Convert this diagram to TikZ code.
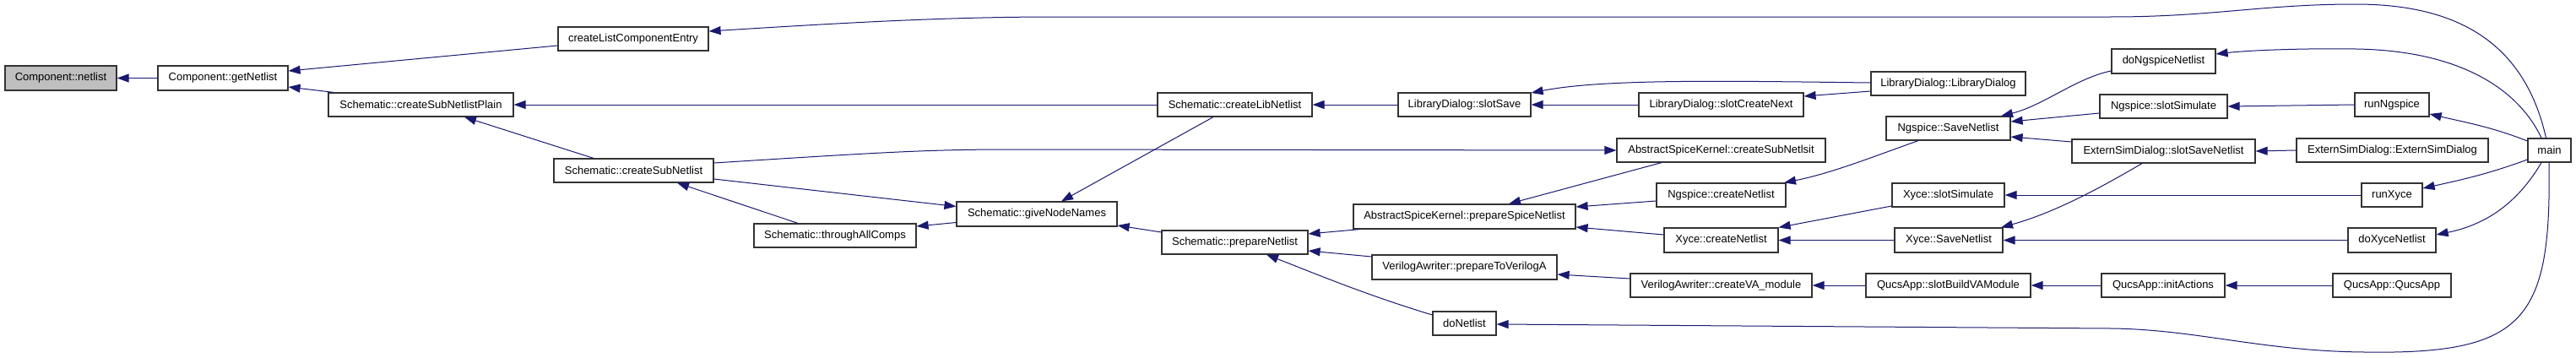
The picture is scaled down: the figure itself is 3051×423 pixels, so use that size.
\documentclass[tikz,border=0pt]{standalone}
\usepackage{fontspec}
\setmainfont{Liberation Sans}
\usetikzlibrary{arrows.meta}
\definecolor{edgeblue}{HTML}{191970}
\definecolor{boxline}{HTML}{333333}
\definecolor{rootfill}{HTML}{BFBFBF}
\tikzset{
  box/.style={draw=boxline, line width=1.2pt, fill=white, inner sep=0pt, text=black,
    font=\fontsize{13}{15}\selectfont},
  rootbox/.style={box, fill=rootfill},
  edge/.style={draw=edgeblue, line width=1pt, -{Triangle[length=14pt,width=10pt]}, color=edgeblue},
}
\newcommand\mkbox[7][box]{\node[#1, minimum width=#5pt, minimum height=#6pt] (#2) at (#3,#4) {#7};}
\begin{document}
\begin{tikzpicture}[x=1pt,y=-1pt]
\fill[white] (0,0) rectangle (3051,423);
\useasboundingbox (0,0) rectangle (3051,423);
% nodes
\mkbox[rootbox]{netlist}{72}{92.5}{132}{29}{Component::netlist}
\mkbox{getNetlist}{264}{92.5}{154}{29}{Component::getNetlist}
\mkbox{plain}{498.5}{124}{219}{28}{Schematic::createSubNetlistPlain}
\mkbox{listentry}{750}{46}{178}{28}{createListComponentEntry}
\mkbox{subnet}{750.5}{202}{189}{28}{Schematic::createSubNetlist}
\mkbox{through}{989}{279}{192}{28}{Schematic::throughAllComps}
\mkbox{give}{1228}{253.5}{190}{29}{Schematic::giveNodeNames}
\mkbox{libnet}{1462.5}{124}{183}{28}{Schematic::createLibNetlist}
\mkbox{prep}{1462.5}{287}{173}{28}{Schematic::prepareNetlist}
\mkbox{slotSave}{1734.5}{124}{157}{28}{LibraryDialog::slotSave}
\mkbox{askSub}{2038.5}{178}{247}{28}{AbstractSpiceKernel::createSubNetlsit}
\mkbox{askPrep}{1734.5}{256.5}{263}{29}{AbstractSpiceKernel::prepareSpiceNetlist}
\mkbox{vaPrep}{1734.5}{316.5}{219}{29}{VerilogAwriter::prepareToVerilogA}
\mkbox{doNetlist}{1734.5}{383}{75}{28}{doNetlist}
\mkbox{slotCreateNext}{2038.5}{124}{195}{28}{LibraryDialog::slotCreateNext}
\mkbox{ngCreate}{2038.5}{231}{153}{28}{Ngspice::createNetlist}
\mkbox{xyCreate}{2038.5}{284.5}{135}{29}{Xyce::createNetlist}
\mkbox{vaModule}{2038.5}{338}{215}{28}{VerilogAwriter::createVA\_module}
\mkbox{libDlg}{2307.5}{99}{183}{28}{LibraryDialog::LibraryDialog}
\mkbox{ngSave}{2307.5}{152}{147}{28}{Ngspice::SaveNetlist}
\mkbox{xySlotSim}{2307.5}{231}{133}{28}{Xyce::slotSimulate}
\mkbox{xySave}{2308}{284.5}{128}{29}{Xyce::SaveNetlist}
\mkbox{buildVA}{2307.5}{338}{195}{28}{QucsApp::slotBuildVAModule}
\mkbox{doNg}{2562.5}{72.5}{123}{29}{doNgspiceNetlist}
\mkbox{ngSlotSim}{2562.5}{126}{151}{28}{Ngspice::slotSimulate}
\mkbox{extSave}{2562.5}{179}{217}{28}{ExternSimDialog::slotSaveNetlist}
\mkbox{initActions}{2562}{338}{146}{28}{QucsApp::initActions}
\mkbox{runNg}{2833}{124}{88}{28}{runNgspice}
\mkbox{extDlg}{2833.5}{178}{227}{28}{ExternSimDialog::ExternSimDialog}
\mkbox{runXyce}{2833}{231}{72}{28}{runXyce}
\mkbox{doXyce}{2833}{284.5}{104}{29}{doXyceNetlist}
\mkbox{qucsApp}{2833}{338}{140}{28}{QucsApp::QucsApp}
\mkbox{main}{3019.5}{178}{51}{28}{main}
% edges
\draw[edge] (getNetlist.west) -- (netlist.east);
\draw[edge] ([yshift=-8pt]listentry.west) -- ([yshift=8.5pt]getNetlist.east);
\draw[edge] ([xshift=-103.5pt]plain.north) -- ([yshift=-10.5pt]getNetlist.east);
\draw[edge] ([xshift=-4pt]main.north) .. controls (2990,50) and (2910,5) .. (2790,5)
  .. controls (2680,5) and (2620,20) .. (2500,20) -- (1250,20)
  .. controls (1120,20) and (1000,27) .. ([yshift=9pt]listentry.east);
\draw[edge] (libnet.west) -- (plain.east);
\draw[edge] ([xshift=-47.5pt]subnet.north) -- ([xshift=51.5pt]plain.south);
\draw[edge] ([yshift=9pt]subnet.east) .. controls (1050,180) and (1100,177) .. (1200,177) -- (askSub.west);
\draw[edge] ([yshift=-10pt]subnet.east) -- ([yshift=9pt]give.west);
\draw[edge] ([xshift=-44pt]through.north) -- ([xshift=51.5pt]subnet.south);
\draw[edge] ([yshift=-10pt]give.west) -- ([yshift=11pt]through.east);
\draw[edge] ([xshift=-25.5pt]libnet.south) -- ([xshift=29pt]give.north);
\draw[edge] ([yshift=12pt]prep.west) -- ([yshift=-13.5pt]give.east);
\draw[edge] (slotSave.west) -- (libnet.east);
\draw[edge] ([yshift=1pt]libDlg.west) .. controls (2050,96) and (1900,93) .. ([yshift=14pt]slotSave.east);
\draw[edge] (slotCreateNext.west) -- (slotSave.east);
\draw[edge] ([yshift=-9pt]libDlg.west) -- ([yshift=10pt]slotCreateNext.east);
\draw[edge] ([xshift=-124.5pt]askPrep.south) -- ([yshift=10pt]prep.east);
\draw[edge] ([yshift=12.5pt]vaPrep.west) -- ([yshift=-10pt]prep.east);
\draw[edge] ([yshift=10pt]doNetlist.west) .. controls (1620,350) and (1560,325) .. ([xshift=37.5pt]prep.south);
\draw[edge] ([xshift=-70.5pt]askSub.south) -- ([xshift=52.5pt]askPrep.north);
\draw[edge] ([yshift=-7pt]ngCreate.west) -- ([yshift=11.5pt]askPrep.east);
\draw[edge] ([yshift=6.5pt]xyCreate.west) -- ([yshift=-12.5pt]askPrep.east);
\draw[edge] ([yshift=8pt]vaModule.west) -- ([yshift=-8.5pt]vaPrep.east);
\draw[edge] ([xshift=-0.5pt]main.south) .. controls (3022,380) and (2990,420) .. (2800,417)
  .. controls (2680,416) and (2600,390) .. (2500,389) -- ([yshift=-1pt]doNetlist.east);
\draw[edge] ([xshift=-35.5pt]ngSave.south) .. controls (2220,185) and (2170,205) .. ([xshift=74.5pt]ngCreate.north);
\draw[edge] ([yshift=-13pt]xySlotSim.west) -- (xyCreate.north east);
\draw[edge] (xySave.west) -- (xyCreate.east);
\draw[edge] (buildVA.west) -- (vaModule.east);
\draw[edge] ([yshift=-11.5pt]doNg.west) .. controls (2460,92) and (2420,125) .. ([xshift=62.5pt]ngSave.north);
\draw[edge] ([yshift=-8pt]ngSlotSim.west) -- ([yshift=8pt]ngSave.east);
\draw[edge] ([yshift=11pt]extSave.west) -- ([yshift=-10pt]ngSave.east);
\draw[edge] ([xshift=-25.5pt]extSave.south) .. controls (2500,215) and (2440,250) .. ([xshift=62pt]xySave.north);
\draw[edge] (runXyce.west) -- (xySlotSim.east);
\draw[edge] (doXyce.west) -- (xySave.east);
\draw[edge] (initActions.west) -- (buildVA.east);
\draw[edge] (qucsApp.west) -- (initActions.east);
\draw[edge] (runNg.west) -- (ngSlotSim.east);
\draw[edge] (extDlg.west) -- (extSave.east);
\draw[edge] ([yshift=11pt]main.west) .. controls (2950,150) and (2920,145) .. ([yshift=-11pt]runNg.east);
\draw[edge] ([yshift=-11pt]main.west) .. controls (2950,205) and (2920,212) .. ([yshift=8pt]runXyce.east);
\draw[edge] ([xshift=-9.5pt]main.south) .. controls (2985,235) and (2950,265) .. ([yshift=6.5pt]doXyce.east);
\draw[edge] ([xshift=-9.5pt]main.north) .. controls (2985,110) and (2920,60) .. (2790,58)
  .. controls (2720,57) and (2660,60) .. ([yshift=8.5pt]doNg.east);
\end{tikzpicture}
\end{document}
